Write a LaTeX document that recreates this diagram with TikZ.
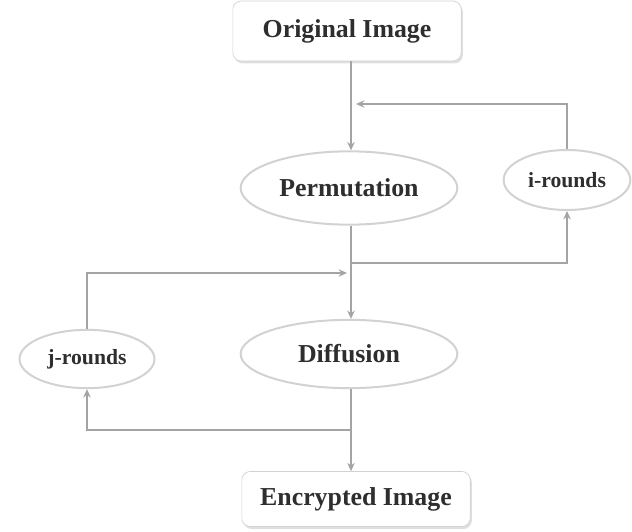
\documentclass[tikz,border=0pt]{standalone}
\usepackage{fontspec}
\setmainfont{Liberation Serif}
\usetikzlibrary{arrows.meta,positioning,shapes.geometric,shadows}
\definecolor{FlowLine}{HTML}{A4A4A4}
\definecolor{FlowText}{HTML}{2E2E2E}
\definecolor{FlowEdge}{HTML}{D2D2D2}

\begin{document}
\begin{tikzpicture}[x=0.6pt, y=-0.6pt,
  imgbox/.style={draw=FlowEdge, fill=white, rounded corners=5pt, minimum width=137pt, minimum height=36pt,
    drop shadow={shadow xshift=1pt, shadow yshift=-1.5pt, fill=black!25}, text=FlowText,
    font=\fontsize{15.5}{18}\selectfont\bfseries},
  stage/.style={ellipse, draw=FlowEdge, line width=1.2pt, fill=white, text=FlowText,
    font=\fontsize{15.5}{18}\selectfont\bfseries},
  rounds/.style={ellipse, draw=FlowEdge, line width=1.2pt, fill=white, text=FlowText, inner sep=0pt,
    font=\fontsize{13}{15}\selectfont\bfseries},
  flow/.style={draw=FlowLine, line width=0.9pt, -{Stealth[length=5pt, width=4.5pt]}}]
\useasboundingbox (0,0) rectangle (632,532);

% Main chain
\node[imgbox] (orig) at (347, 31) {Original Image};
\node[stage, minimum width=130pt, minimum height=44pt] (perm) at (349, 188) {Permutation};
\node[stage, minimum width=130pt, minimum height=41pt] (diff) at (349, 354) {Diffusion};
\node[imgbox, minimum height=33pt] (enc) at (356, 499) {Encrypted Image};

% Round counters
\node[rounds, minimum width=76pt, minimum height=36pt] (irnd) at (567, 180) {i-rounds};
\node[rounds, minimum width=81pt, minimum height=35pt] (jrnd) at (87, 359) {j-rounds};

% Branch and merge points
\coordinate (iin) at (356, 104);
\coordinate (iout) at (351, 263);
\coordinate (jin) at (347, 273);
\coordinate (jout) at (351, 430);

% Connectors
\draw[flow] (orig.south -| 351,0) -- (perm.north -| 351,0);
\draw[flow] (perm.south -| 351,0) -- (diff.north -| 351,0);
\draw[flow] (diff.south -| 351,0) -- (enc.north -| 351,0);
\draw[flow] (iout) -| (irnd.south);
\draw[flow] (irnd.north) |- (iin);
\draw[flow] (jout) -| (jrnd.south);
\draw[flow] (jrnd.north) |- (jin);
\end{tikzpicture}
\end{document}
